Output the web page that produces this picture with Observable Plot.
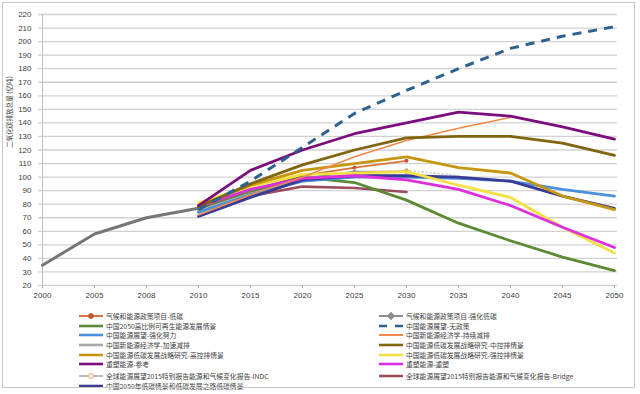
<!DOCTYPE html>
<html>
<head>
<meta charset="utf-8">
<script src="https://cdn.jsdelivr.net/npm/d3@7"></script>
<script src="https://cdn.jsdelivr.net/npm/@observablehq/plot@0.6"></script>
<style>
  html, body { margin: 0; padding: 0; background: #fff; }
  #wrap { position: relative; width: 640px; height: 394px; overflow: hidden; font-family: "Liberation Sans", "Noto Sans CJK SC", sans-serif; }
  #frame { position: absolute; left: 2px; top: 2px; width: 633px; height: 386px; border: 1px solid #c8c8c8; box-sizing: border-box; pointer-events: none; }
  #chart { position: absolute; left: 0; top: 0; }
  #ylab { position: absolute; left: 9px; top: 112px; transform: translate(-50%, -50%) rotate(-90deg); white-space: nowrap; font-family: "Noto Sans CJK SC", sans-serif; font-size: 6.6px; color: #404040; }
  .lg { position: absolute; display: flex; align-items: center; height: 10px; white-space: nowrap; font-family: "Noto Sans CJK SC", sans-serif; font-size: 6.8px; color: #404040; }
  .lg svg { margin-right: 3px; }
</style>
</head>
<body>
<div id="wrap">
  <div id="chart"></div>
  <div id="ylab">二氧化碳排放总量 (亿吨)</div>
  <div id="legend"></div>
  <div id="frame"></div>
</div>
<script>
// ---- categories ----
const years = ["2000","2005","2008","2010","2015","2020","2025","2030","2035","2040","2045","2050"];
const yTicks = [20,30,40,50,60,70,80,90,100,110,120,130,140,150,160,170,180,190,200,210,220];

// ---- series values (aligned with years; null = no value) ----
const history      = [35, 58, 70, 77, null, null, null, null, null, null, null, null];
const lowCarbon    = [null, null, null, 78, 90, 101, 107, 112, null, null, null, null];
const enhLowCarbon = [null, null, null, 77, 89, 99, 104, 104, null, null, null, null];
const highRenew    = [null, null, null, 77, 90, 100, 96, 83, 66, 53, 41, 31];
const noPolicy     = [null, null, null, 76, 97, 122, 147, 164, 180, 195, 204, 211];
const enhEffort    = [null, null, null, 74, 87, 97, 100, 100, 99, 97, 91, 86];
const sustained    = [null, null, null, 72, 87, 100, 115, 127, 136, 144, null, null];
const accelerated  = [null, null, null, 75, 88, 97, 101, 101, null, null, null, null];
const midControl   = [null, null, null, 78, 95, 109, 120, 129, 130, 130, 125, 116];
const highControl  = [null, null, null, 79, 94, 105, 110, 115, 107, 103, 86, 76];
const strongCtrl   = [null, null, null, 81, 93, 102, 103, 104, 94, 85, 63, 44];
const reinventRef  = [null, null, null, 79, 105, 120, 132, 140, 148, 145, 137, 128];
const reinvent     = [null, null, null, 78, 91, 99, 101, 98, 91, 79, 63, 48];
const indc         = [null, null, null, 77, null, 100, 103, 105, 101, null, null, null];
const bridge       = [null, null, null, 76, 86, 93, 92, 89, null, null, null, null];
const lowScenario  = [null, null, null, 71, 85, 98, 101, 101, 100, 97, 86, 77];

// ---- series names (legend order: left column, right column) ----
const names = {
  lowCarbon: "气候和能源政策项目-低碳",
  enhLowCarbon: "气候和能源政策项目-强化低碳",
  highRenew: "中国2050高比例可再生能源发展情景",
  noPolicy: "中国能源展望-无政策",
  enhEffort: "中国能源展望-强化努力",
  sustained: "中国新能源经济学-持续减排",
  accelerated: "中国新能源经济学-加速减排",
  midControl: "中国能源低碳发展战略研究-中控排情景",
  highControl: "中国能源低碳发展战略研究-高控排情景",
  strongCtrl: "中国能源低碳发展战略研究-强控排情景",
  reinventRef: "重塑能源-参考",
  reinvent: "重塑能源-重塑",
  indc: "全球能源展望2015特别报告能源和气候变化报告-INDC",
  bridge: "全球能源展望2015特别报告能源和气候变化报告-Bridge",
  lowScenario: "中国2050年低碳情景和低碳发展之路低碳情景"
};

const series = [
  {key: "history", values: history, color: "#767676", width: 3},
  {key: "bridge", values: bridge, color: "#9b4b5c", width: 2.6},
  {key: "accelerated", values: accelerated, color: "#a9a9a9", width: 2.6},
  {key: "indc", values: indc, color: "#c4c4c4", width: 1.6, dash: "2,2", marker: "#f0a050"},
  {key: "enhLowCarbon", values: enhLowCarbon, color: "#8c8c8c", width: 1.8, marker: "#8c8c8c"},
  {key: "lowCarbon", values: lowCarbon, color: "#d7773b", width: 1.8, marker: "#c0583a"},
  {key: "highRenew", values: highRenew, color: "#5b8a34", width: 2.8},
  {key: "enhEffort", values: enhEffort, color: "#4a90dc", width: 2.8},
  {key: "lowScenario", values: lowScenario, color: "#3c3c96", width: 2.8},
  {key: "strongCtrl", values: strongCtrl, color: "#f3e045", width: 2.8},
  {key: "reinvent", values: reinvent, color: "#de2fde", width: 2.8},
  {key: "highControl", values: highControl, color: "#c7960f", width: 2.8},
  {key: "sustained", values: sustained, color: "#f2894a", width: 1.5},
  {key: "midControl", values: midControl, color: "#806410", width: 2.8},
  {key: "reinventRef", values: reinventRef, color: "#7c0d7c", width: 2.8},
  {key: "noPolicy", values: noPolicy, color: "#2d6290", width: 3, dash: "9,7"}
];

function rows(values) {
  return years.map((y, i) => ({year: y, value: values[i]})).filter(d => d.value != null);
}

const lineMarks = [];
for (const s of series) {
  const data = rows(s.values);
  lineMarks.push(Plot.line(data, {
    x: "year", y: "value", stroke: s.color, strokeWidth: s.width,
    strokeDasharray: s.dash, strokeLinejoin: "round", strokeLinecap: s.dash ? "butt" : "round"
  }));
  if (s.marker) {
    lineMarks.push(Plot.dot(data.filter(d => d.year === "2025" || d.year === "2030"), {
      x: "year", y: "value", r: 2, fill: s.marker, stroke: "none"
    }));
  }
}

const chart = Plot.plot({
  width: 640,
  height: 305,
  marginLeft: 38,
  marginRight: 23,
  marginTop: 14,
  marginBottom: 20,
  x: {type: "point", domain: years, padding: 0},
  y: {domain: [20, 220]},
  style: {fontFamily: "Liberation Sans, sans-serif", fontSize: "8px", color: "#404040", background: "transparent"},
  marks: [
    Plot.ruleY(yTicks, {stroke: "#d2d2d2", strokeWidth: 1.3}),
    Plot.ruleX([years[0]], {stroke: "#c0c0c0", strokeWidth: 1}),
    Plot.axisY({ticks: yTicks, tickSize: 0, tickPadding: 7, label: null}),
    Plot.axisX({tickSize: 3, tickPadding: 4, label: null, stroke: "#b0b0b0"}),
    ...lineMarks
  ]
});
document.getElementById("chart").appendChild(chart);

// ---- legend ----
const legendLeft = ["lowCarbon", "highRenew", "enhEffort", "accelerated", "highControl", "reinventRef", "indc", "lowScenario"];
const legendRight = ["enhLowCarbon", "noPolicy", "sustained", "midControl", "strongCtrl", "reinvent", "bridge"];
const rowY = [311, 320.5, 330, 339.5, 349.5, 359, 371, 381];
const legend = document.getElementById("legend");
function addLegend(keys, x) {
  keys.forEach((k, i) => {
    const s = series.find(d => d.key === k);
    const div = document.createElement("div");
    div.className = "lg";
    div.style.left = x + "px";
    div.style.top = rowY[i] + "px";
    const ns = "http://www.w3.org/2000/svg";
    const svg = document.createElementNS(ns, "svg");
    svg.setAttribute("width", 24); svg.setAttribute("height", 10);
    const line = document.createElementNS(ns, "line");
    line.setAttribute("x1", 0); line.setAttribute("x2", 24);
    line.setAttribute("y1", 5); line.setAttribute("y2", 5);
    line.setAttribute("stroke", k === "indc" ? "#bdbdbd" : s.color);
    line.setAttribute("stroke-width", Math.max(2, Math.min(s.width, 2.6)));
    if (k === "noPolicy") line.setAttribute("stroke-dasharray", "8,8");
    svg.appendChild(line);
    if (s.marker) {
      const c = document.createElementNS(ns, k === "enhLowCarbon" ? "rect" : "circle");
      if (k === "enhLowCarbon") {
        c.setAttribute("x", 9.5); c.setAttribute("y", 2.5); c.setAttribute("width", 5); c.setAttribute("height", 5);
        c.setAttribute("transform", "rotate(45 12 5)");
      } else {
        c.setAttribute("cx", 12); c.setAttribute("cy", 5); c.setAttribute("r", 2.5);
      }
      c.setAttribute("fill", k === "indc" ? "#fff" : s.marker);
      c.setAttribute("stroke", s.marker);
      svg.appendChild(c);
    }
    div.appendChild(svg);
    const span = document.createElement("span");
    span.textContent = names[k];
    div.appendChild(span);
    legend.appendChild(div);
  });
}
addLegend(legendLeft, 79);
addLegend(legendRight, 379);
</script>
</body>
</html>
